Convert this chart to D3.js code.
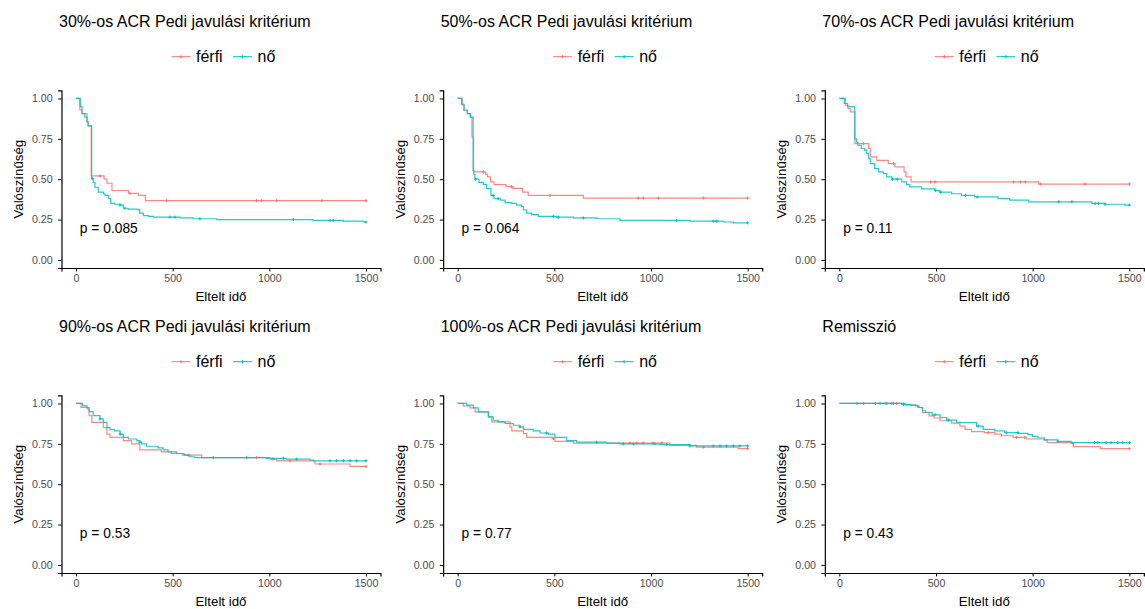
<!DOCTYPE html>
<html>
<head>
<meta charset="utf-8">
<script src="https://cdn.jsdelivr.net/npm/d3@7"></script>
<style>
  body { margin: 0; background: #fff; }
  svg { font-family: "Liberation Sans", Arial, sans-serif; }
  .tick text { fill: #4d4d4d; font-size: 10.6px; }
  .tick line, .domain { stroke: #000; }
</style>
</head>
<body>
<div id="chart"></div>
<script>
// survival curves: [time, probability] steps, censor times separately

const titles = ["30%-os ACR Pedi javulási kritérium", "50%-os ACR Pedi javulási kritérium",
  "70%-os ACR Pedi javulási kritérium", "90%-os ACR Pedi javulási kritérium",
  "100%-os ACR Pedi javulási kritérium", "Remisszió"];
const pvals = ["p = 0.085", "p = 0.064", "p = 0.11", "p = 0.53", "p = 0.77", "p = 0.43"];
const groups = ["férfi", "nő"];
const xTicks = [0, 500, 1000, 1500];
const yTicks = [0, 0.25, 0.5, 0.75, 1];

const p1Male = [[0,1],[20,0.93],[31,0.906],[57,0.855],[65,0.83],[79,0.52],[145,0.5],[160,0.475],[186,0.43],[272,0.412],[323,0.40],[359,0.367]];
const p1MaleCens = [124,279,469,934,960,1038,1271,1500];
const p1Female = [[0,1],[22,0.95],[31,0.906],[45,0.885],[57,0.855],[62,0.83],[81,0.503],[89,0.48],[98,0.45],[115,0.42],[143,0.41],[150,0.40],[170,0.38],[180,0.35],[200,0.345],[228,0.34],[245,0.32],[270,0.315],[322,0.31],[330,0.29],[348,0.275],[375,0.27],[400,0.265],[538,0.26],[607,0.255],[727,0.25],[1225,0.245],[1383,0.24],[1486,0.235]];
const p1FemaleCens = [86,228,253,486,512,641,1124,1314,1331,1500];

const p2Male = [[0,1],[24,0.96],[33,0.927],[50,0.906],[64,0.885],[74,0.76],[82,0.545],[145,0.53],[155,0.514],[170,0.483],[188,0.466],[250,0.454],[285,0.443],[335,0.42],[365,0.40],[650,0.383]];
const p2MaleCens = [133,279,478,934,960,1038,1271,1500];
const p2Female = [[0,1],[20,0.965],[33,0.927],[50,0.906],[67,0.885],[80,0.555],[84,0.528],[89,0.50],[110,0.48],[133,0.466],[150,0.443],[172,0.40],[188,0.38],[220,0.37],[245,0.355],[280,0.35],[305,0.34],[331,0.33],[340,0.31],[357,0.29],[383,0.28],[417,0.27],[512,0.265],[598,0.26],[719,0.255],[840,0.245],[1202,0.24],[1374,0.235],[1426,0.23]];
const p2FemaleCens = [93,184,210,495,521,650,1133,1322,1340,1500];

const p3Male = [[0,1],[31,0.958],[45,0.937],[57,0.917],[80,0.72],[151,0.69],[160,0.638],[194,0.617],[253,0.597],[288,0.576],[335,0.545],[345,0.514],[371,0.483],[1031,0.47]];
const p3MaleCens = [125,280,472,495,902,936,962,1040,1271,1500];
const p3Female = [[0,1],[26,0.97],[43,0.95],[80,0.75],[88,0.73],[96,0.71],[113,0.69],[131,0.68],[140,0.66],[151,0.627],[160,0.597],[182,0.566],[203,0.545],[228,0.535],[245,0.514],[271,0.50],[323,0.483],[348,0.466],[365,0.452],[426,0.44],[495,0.43],[520,0.42],[581,0.41],[632,0.40],[700,0.39],[821,0.38],[881,0.37],[980,0.36],[1306,0.35],[1374,0.345],[1477,0.34]];
const p3FemaleCens = [275,300,498,524,653,713,1134,1203,1323,1340,1374,1500];

const p4Male = [[0,1],[26,0.976],[57,0.966],[68,0.925],[82,0.883],[141,0.85],[160,0.81],[176,0.79],[245,0.77],[288,0.75],[330,0.712],[441,0.70],[493,0.69],[562,0.68],[650,0.665],[1003,0.655],[1038,0.645],[1236,0.625],[1417,0.61]];
const p4MaleCens = [581,934,1020,1107,1262,1500];
const p4Female = [[0,1],[34,0.985],[57,0.975],[68,0.95],[89,0.925],[124,0.905],[141,0.883],[160,0.85],[176,0.838],[200,0.83],[228,0.81],[245,0.79],[271,0.78],[314,0.77],[330,0.76],[340,0.75],[365,0.735],[424,0.725],[450,0.712],[476,0.70],[519,0.69],[553,0.68],[588,0.67],[614,0.665],[986,0.66],[1090,0.655],[1210,0.65],[1227,0.645]];
const p4FemaleCens = [124,228,330,710,883,1072,1141,1314,1348,1383,1417,1452,1500];

const p5Male = [[0,1],[29,0.985],[64,0.973],[90,0.948],[159,0.917],[176,0.886],[271,0.855],[280,0.83],[340,0.813],[357,0.79],[495,0.782],[503,0.765],[598,0.755],[1098,0.74],[1236,0.73],[1450,0.72]];
const p5MaleCens = [495,891,926,960,1010,1055,1271,1500];
const p5Female = [[0,1],[47,0.99],[81,0.973],[107,0.948],[159,0.917],[184,0.896],[210,0.886],[245,0.876],[288,0.865],[322,0.855],[340,0.84],[391,0.83],[426,0.817],[469,0.81],[503,0.79],[564,0.77],[615,0.76],[770,0.755],[840,0.75],[1047,0.745],[1202,0.737]];
const p5FemaleCens = [322,460,719,857,909,1020,1081,1202,1322,1357,1391,1426,1460,1500];

const p6Male = [[0,1],[340,0.99],[405,0.975],[430,0.944],[464,0.923],[490,0.91],[521,0.893],[581,0.878],[624,0.86],[650,0.84],[684,0.826],[750,0.82],[804,0.81],[839,0.80],[899,0.79],[967,0.78],[1060,0.775],[1075,0.758],[1199,0.754],[1210,0.733],[1350,0.72]];
const p6MaleCens = [126,237,280,297,770,916,959,1208,1500];
const p6Female = [[0,1],[323,0.995],[370,0.99],[395,0.985],[412,0.975],[430,0.955],[446,0.944],[480,0.93],[521,0.913],[555,0.897],[607,0.882],[710,0.86],[744,0.84],[804,0.83],[856,0.82],[925,0.815],[976,0.807],[1000,0.796],[1027,0.786],[1060,0.775],[1130,0.765],[1199,0.758]];
const p6FemaleCens = [91,186,211,246,271,332,495,564,718,864,924,1131,1320,1337,1380,1405,1440,1466,1500];

const maleCurves = [p1Male, p2Male, p3Male, p4Male, p5Male, p6Male];
const maleCens = [p1MaleCens, p2MaleCens, p3MaleCens, p4MaleCens, p5MaleCens, p6MaleCens];
const femaleCurves = [p1Female, p2Female, p3Female, p4Female, p5Female, p6Female];
const femaleCens = [p1FemaleCens, p2FemaleCens, p3FemaleCens, p4FemaleCens, p5FemaleCens, p6FemaleCens];

const colors = ["#F8766D", "#00BFC4"];
const tMax = 1500;

const width = 1145, height = 609;
const panelW = width / 3, panelH = 305;

const svg = d3.select("#chart").append("svg")
  .attr("width", width)
  .attr("height", height);

// same scales for every panel (positions inside a panel)
const x = d3.scaleLinear().domain([-75, 1575]).range([61.5, 380.5]);
const y = d3.scaleLinear().domain([-0.05, 1.05]).range([268, 90.4]);

const stepLine = d3.line()
  .x(d => x(d[0]))
  .y(d => y(d[1]))
  .curve(d3.curveStepAfter);

function valueAt(curve, t) {
  let v = curve[0][1];
  for (const p of curve) { if (p[0] <= t) v = p[1]; }
  return v;
}

function plus(g, cx, cy, color, s) {
  g.append("path")
    .attr("d", `M${cx - s},${cy}H${cx + s}M${cx},${cy - s}V${cy + s}`)
    .attr("stroke", color)
    .attr("stroke-width", 1);
}

titles.forEach((title, i) => {
  const col = i % 3, row = Math.floor(i / 3);
  const g = svg.append("g")
    .attr("transform", `translate(${col * panelW},${row * panelH})`);

  g.append("text")
    .attr("x", 59).attr("y", 26.5)
    .attr("font-size", "16px")
    .attr("fill", "#000")
    .text(title);

  // legend
  const leg = g.append("g").attr("transform", "translate(171.5,56.7)");
  const legX = [0, 61.5];
  groups.forEach((name, k) => {
    const lx = legX[k];
    leg.append("line")
      .attr("x1", lx).attr("x2", lx + 19)
      .attr("y1", 0).attr("y2", 0)
      .attr("stroke", colors[k]).attr("stroke-width", 1);
    plus(leg, lx + 9.5, 0, colors[k], 1.6);
    leg.append("text")
      .attr("x", lx + 24.5).attr("y", 0).attr("dy", "0.36em")
      .attr("font-size", "16px")
      .attr("fill", "#000")
      .text(name);
  });

  // axes
  g.append("g")
    .attr("transform", `translate(0,${y.range()[0]})`)
    .call(d3.axisBottom(x).tickValues(xTicks).tickFormat(d3.format("d")).tickSizeOuter(0).tickSize(3.4).tickPadding(3))
    .call(a => a.select(".domain").attr("stroke-width", 1.2))
    .call(a => a.selectAll(".tick line").attr("stroke-width", 1));

  g.append("g")
    .attr("transform", `translate(${x.range()[0]},0)`)
    .call(d3.axisLeft(y).tickValues(yTicks).tickFormat(d3.format(".2f")).tickSizeOuter(0).tickSize(3.4).tickPadding(5.5))
    .call(a => a.select(".domain").attr("stroke-width", 1.2))
    .call(a => a.selectAll(".tick line").attr("stroke-width", 1));

  g.append("text")
    .attr("x", (x.range()[0] + x.range()[1]) / 2)
    .attr("y", 300.5)
    .attr("text-anchor", "middle")
    .attr("font-size", "13.3px")
    .attr("fill", "#000")
    .text("Eltelt idő");

  g.append("text")
    .attr("transform", `translate(23,${(y.range()[0] + y.range()[1]) / 2}) rotate(-90)`)
    .attr("text-anchor", "middle")
    .attr("font-size", "13.3px")
    .attr("fill", "#000")
    .text("Valószínűség");

  // curves
  [[maleCurves[i], maleCens[i]], [femaleCurves[i], femaleCens[i]]].forEach(([curve, cens], k) => {
    const pts = curve.concat([[tMax, curve[curve.length - 1][1]]]);
    g.append("path")
      .datum(pts)
      .attr("d", stepLine)
      .attr("fill", "none")
      .attr("stroke", colors[k])
      .attr("stroke-width", 1.2)
      .attr("stroke-opacity", 0.85);
    cens.forEach(t => plus(g, x(t), y(valueAt(curve, t)), colors[k], 1.6));
  });

  g.append("text")
    .attr("x", x(20)).attr("y", y(0.2)).attr("dy", "0.36em")
    .attr("font-size", "13.8px")
    .attr("fill", "#000")
    .text(pvals[i]);
});
</script>
</body>
</html>
